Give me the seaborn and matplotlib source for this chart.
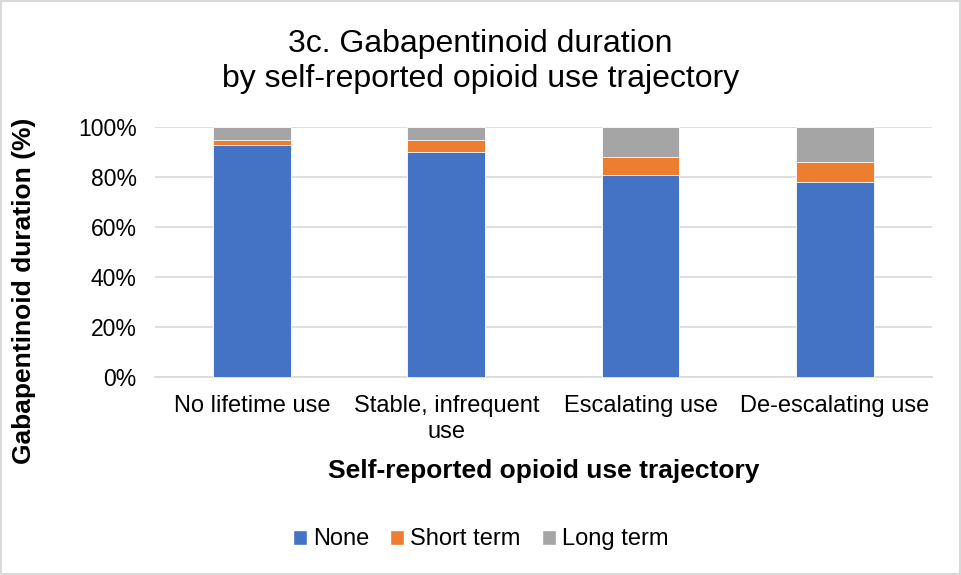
import pandas as pd
import seaborn as sns
import matplotlib.pyplot as plt
from matplotlib.patches import Patch, Rectangle
from matplotlib.ticker import PercentFormatter

categories = ["No lifetime use", "Stable, infrequent\nuse", "Escalating use", "De-escalating use"]
none_pct = [93, 90, 81, 78]
short_pct = [2, 5, 7, 8]
long_pct = [5, 5, 12, 14]

series = ["None", "Short term", "Long term"]
colors = {"None": "#4472C4", "Short term": "#ED7D31", "Long term": "#A5A5A5"}

df = pd.DataFrame({"trajectory": categories, "None": none_pct,
                   "Short term": short_pct, "Long term": long_pct})
df["cum_none"] = df["None"]
df["cum_short"] = df["None"] + df["Short term"]
df["cum_long"] = df["cum_short"] + df["Long term"]

sns.set_theme(style="white")
plt.rcParams["font.family"] = ["Liberation Sans", "DejaVu Sans"]
plt.rcParams["text.color"] = "black"
plt.rcParams["axes.labelcolor"] = "black"

fig = plt.figure(figsize=(9.61, 5.75), dpi=100)
ax = fig.add_axes([0.161, 0.344, 0.809, 0.435])

# stacked: draw tallest first so lower segments sit on top
for col, name in [("cum_long", "Long term"), ("cum_short", "Short term"), ("cum_none", "None")]:
    sns.barplot(data=df, x="trajectory", y=col, color=colors[name], width=0.4,
                saturation=1, ax=ax, zorder=3, linewidth=0.6, edgecolor="#ffffff")

ax.set_xlim(-0.5, 3.5)
ax.set_ylim(0, 100)
ax.set_yticks(range(0, 101, 20))
ax.yaxis.set_major_formatter(PercentFormatter(decimals=0))
ax.grid(axis="y", color="#d9d9d9", linewidth=1.2, zorder=0)
for s in ["top", "right", "left"]:
    ax.spines[s].set_visible(False)
ax.spines["bottom"].set_color("#d9d9d9")
ax.spines["bottom"].set_linewidth(1.2)
ax.tick_params(axis="both", length=0, labelsize=17, colors="#000000")
ax.tick_params(axis="y", labelsize=16.5, pad=13)
ax.tick_params(axis="x", pad=13)

ax.set_xlabel("Self-reported opioid use trajectory", fontsize=19, fontweight="bold", labelpad=12)
ax.set_ylabel("Gabapentinoid duration (%)", fontsize=19, fontweight="bold")
ax.yaxis.set_label_coords(-0.153, 0.344)

fig.text(0.5, 0.893, "3c. Gabapentinoid duration\nby self-reported opioid use trajectory",
         ha="center", va="center", fontsize=23, color="#000000", linespacing=1.2)

handles = [Patch(facecolor=colors[s], label=s) for s in series]
fig.legend(handles=handles, loc="center", bbox_to_anchor=(0.5, 0.062), ncol=3, frameon=False,
           fontsize=17, handlelength=0.6, handleheight=0.6, handletextpad=0.25, columnspacing=0.9)

fig.patches.append(Rectangle((0.001, 0.001), 0.998, 0.998, transform=fig.transFigure,
                             fill=False, edgecolor="#d9d9d9", linewidth=1.5))

fig.savefig("out.png", dpi=100, facecolor="white")
